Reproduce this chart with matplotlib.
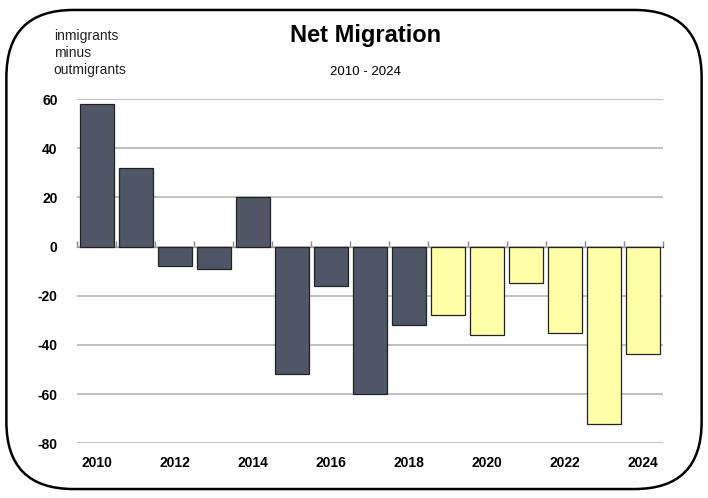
import matplotlib.pyplot as plt
from matplotlib.patches import FancyBboxPatch

years = list(range(2010, 2025))
net_migration = [58, 32, -8, -9, 20, -52, -16, -60, -32, -28, -36, -15, -35, -72, -43.5]
projected = [False] * 9 + [True] * 6
tick_years = [2010, 2012, 2014, 2016, 2018, 2020, 2022, 2024]
y_ticks = [60, 40, 20, 0, -20, -40, -60, -80]

dark = "#4f5766"
yellow = "#ffffa8"
narrow = ["Liberation Sans Narrow", "Liberation Sans", "DejaVu Sans"]

fig = plt.figure(figsize=(7.08, 4.98), dpi=100)
ax = fig.add_axes([0.109, 0.110, 0.827, 0.691])

pos = list(range(len(years)))
colors = [yellow if p else dark for p in projected]
ax.bar(pos, net_migration, width=0.87, color=colors, edgecolor="#222222",
       linewidth=0.9, zorder=3)

ax.set_xlim(-0.5, len(years) - 0.5)
ax.set_ylim(-80, 60)
ax.set_yticks(y_ticks)
ax.set_yticklabels([str(v) for v in y_ticks], family=narrow, fontsize=10,
                   fontweight="bold")
ax.yaxis.grid(True, color="#b5b5b5", linewidth=1.2, zorder=0)
ax.tick_params(axis="y", length=0, pad=14)

ax.set_xticks([years.index(y) for y in tick_years])
ax.set_xticklabels([str(y) for y in tick_years], family=narrow, fontsize=10,
                   fontweight="bold")
ax.tick_params(axis="x", length=0, pad=9)
for s in ax.spines.values():
    s.set_visible(False)

# small ticks between categories along the zero line
sec = ax.secondary_xaxis(80 / 140)
sec.set_xticks([p - 0.5 for p in pos] + [len(years) - 0.5])
sec.set_xticklabels([])
sec.tick_params(length=4, width=1, color="#888888", direction="out")
sec.spines["bottom"].set_visible(False)

fig.text(0.516, 0.928, "Net Migration", ha="center", va="center",
         fontsize=17, fontweight="bold", family=narrow)
fig.text(0.516, 0.855, "2010 - 2024", ha="center", va="center",
         fontsize=9.5, family=narrow)
fig.text(0.076, 0.942, "inmigrants\nminus\noutmigrants", ha="left", va="top",
         fontsize=10, family=narrow, linespacing=1.3, color="#222222")

border = FancyBboxPatch((0.009, 0.018), 0.982, 0.962,
                        boxstyle="round,pad=0,rounding_size=0.095",
                        transform=fig.transFigure, fill=False,
                        edgecolor="black", linewidth=1.8,
                        mutation_aspect=708 / 498)
fig.patches.append(border)

fig.savefig("out.png", dpi=100)
